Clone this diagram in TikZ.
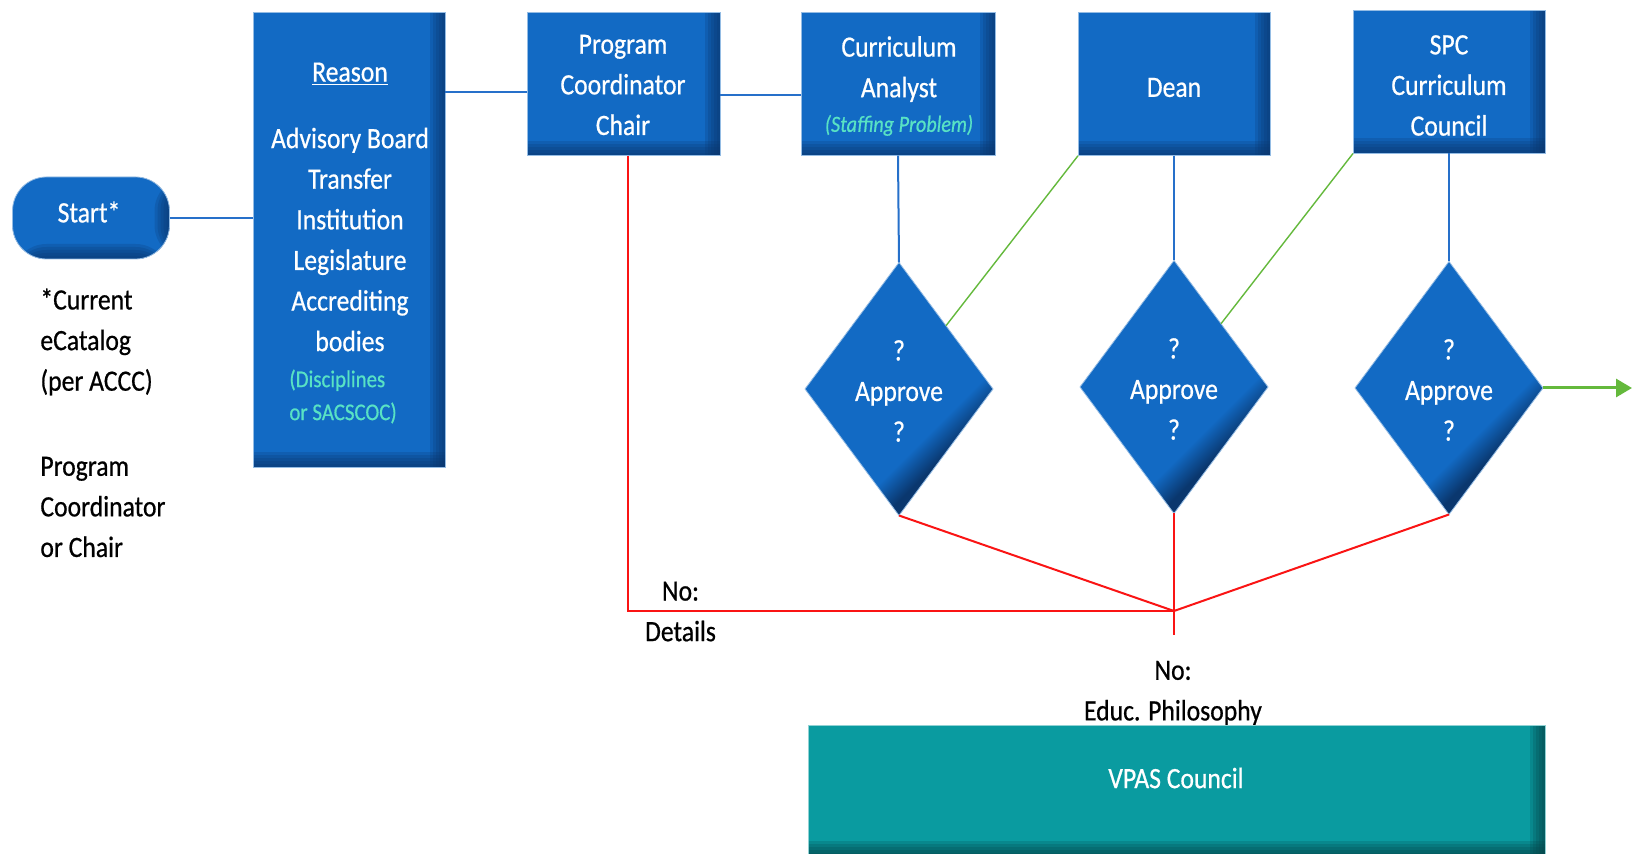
\documentclass[tikz,border=0pt]{standalone}
\usepackage{fontspec}
\setmainfont{Carlito}[FakeStretch=0.87,FakeBold=0.6]
\usetikzlibrary{shapes.geometric,arrows.meta}

\definecolor{boxblue}{RGB}{18,106,196}
\definecolor{boxdark}{RGB}{10,55,110}
\definecolor{vpasteal}{RGB}{10,155,160}
\definecolor{vpasdark}{RGB}{5,70,74}
\definecolor{notegreen}{RGB}{88,226,196}
\definecolor{linkblue}{RGB}{38,112,202}
\definecolor{nored}{RGB}{250,20,20}
\definecolor{okgreen}{RGB}{100,185,60}

\pgfdeclarehorizontalshading{diashade}{100bp}{color(0bp)=(boxblue); color(62bp)=(boxblue); color(68bp)=(boxdark); color(100bp)=(boxdark)}

\tikzset{
  every node/.style={font=\fontsize{14.75}{20.3}\selectfont},
  bevel/.style 2 args={fill=#1, draw=#1!45!white, line width=0.4pt,
    path picture={
      \foreach \d in {1.5,3,4.5,6,7.5} {
        \fill[#2, opacity=0.22] ([xshift=-\d pt]path picture bounding box.north east) rectangle (path picture bounding box.south east);
        \fill[#2, opacity=0.22] ([yshift=\d pt]path picture bounding box.south west) rectangle (path picture bounding box.south east);
      }
    }},
  box/.style={bevel={boxblue}{boxdark}, minimum width=96pt, minimum height=71.75pt, inner sep=0pt, outer sep=0pt},
  decision/.style={diamond, shade, shading=diashade, shading angle=-45, draw=boxblue!45!white, line width=0.4pt,
    minimum width=94pt, minimum height=126.5pt, inner sep=0pt, outer sep=0pt},
  boxtext/.style={text=white, align=center, inner sep=0pt},
  note/.style={text=notegreen, align=left, inner sep=0pt, font=\fontsize{12}{16.5}\selectfont},
  plain/.style={text=black, align=left, inner sep=0pt},
  link/.style={linkblue, line width=1pt},
  nolink/.style={nored, line width=1pt},
  oklink/.style={okgreen, line width=0.7pt},
}

\begin{document}
\begin{tikzpicture}[x=0.5pt,y=-0.5pt]
\fill[white] (0,0) rectangle (1635,854);
\useasboundingbox (0,0) rectangle (1635,854);

% top row
\node[box, rounded corners=17pt, minimum width=78.5pt, minimum height=41pt] (start) at (91,218) {};
\node[box, minimum height=227.5pt] (reason) at (349,240) {};
\node[box, minimum width=96.5pt] (prog) at (623.5,84) {};
\node[box, minimum width=97pt] (analyst) at (898,84) {};
\node[box] (dean) at (1174,84) {};
\node[box, minimum height=71.5pt] (spc) at (1449,82) {};

\node[boxtext] (starttext) at (89,212) {Start*};
\node[boxtext] (reasontext) at (350,207) {\underline{Reason}\\[13pt] Advisory Board\\ Transfer\\ Institution\\ Legislature\\ Accrediting\\ bodies};
\node[note, anchor=west] (reasonnote) at (289,396.5) {(Disciplines\\ or SACSCOC)};
\node[boxtext] (progtext) at (623,85) {Program\\ Coordinator\\ Chair};
\node[boxtext] (analysttext) at (899,86) {Curriculum\\ Analyst\\[-3pt] {\fontsize{11.6}{14}\selectfont\itshape\color{notegreen}(Staffing Problem)}};
\node[boxtext] (deantext) at (1174,87.5) {Dean};
\node[boxtext] (spctext) at (1449,85.5) {SPC\\ Curriculum\\ Council};

\node[plain, anchor=west] (catalog) at (40,342) {*Current\\ eCatalog\\ (per ACCC)};
\node[plain, anchor=west] (owner) at (40,507) {Program\\ Coordinator\\ or Chair};

% approval steps
\node[decision] (ok1) at (899,389) {};
\node[decision] (ok2) at (1174,387) {};
\node[decision] (ok3) at (1449,388) {};
\node[boxtext] (q1) at (899,391) {?\\ Approve\\ ?};
\node[boxtext] (q2) at (1174,389) {?\\ Approve\\ ?};
\node[boxtext] (q3) at (1449,390) {?\\ Approve\\ ?};

\coordinate (fork) at (1174,611);
\coordinate (forkend) at (1174,635);
\coordinate (exit) at (1632,388);

\draw[link] (start.east) -- (start.east -| reason.west);
\draw[link] ([yshift=-4pt]prog.west) -- ([yshift=-4pt]prog.west -| reason.east);
\draw[link] ([yshift=-5.5pt]prog.east) -- ([yshift=-5.5pt]prog.east -| analyst.west);
\draw[link] (analyst.south) -- (ok1.north);
\draw[link] (dean.south) -- (ok2.north);
\draw[link] (spc.south) -- (ok3.north);

\draw[oklink] (dean.south west) -- (ok1.north east);
\draw[oklink] (spc.south west) -- (ok2.north east);
\draw[okgreen, line width=1.5pt, -{Triangle[length=8pt,width=9pt]}] (ok3.east) -- (exit);

\draw[nolink] ([xshift=2pt]prog.south) |- (fork);
\draw[nolink] (ok1.south) -- (fork) -- (ok3.south);
\draw[nolink] (ok2.south) -- (forkend);

\node[plain, align=center] (nodetails) at (680.5,611.5) {No:\\ Details};
\node[plain, align=center] (nophilosophy) at (1173,693) {No:\\ Educ. Philosophy};

\node[bevel={vpasteal}{vpasdark}, minimum width=368.5pt, minimum height=65.5pt, inner sep=0pt] (vpas) at (1176.5,790.5) {};
\node[boxtext] (vpastext) at (1176,778) {VPAS Council};
\end{tikzpicture}
\end{document}
